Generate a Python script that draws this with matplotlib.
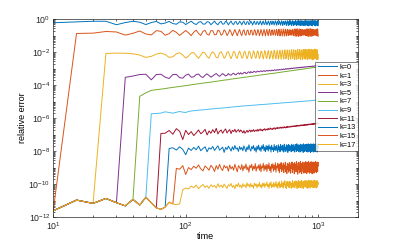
import numpy as np
import matplotlib
matplotlib.use("Agg")
import matplotlib.pyplot as plt
from matplotlib.ticker import LogLocator, NullFormatter

plt.rcParams["font.family"] = ["Liberation Sans", "DejaVu Sans"]

# sampling times
time = np.arange(10, 1001, 5)

# log10 of relative error
# shared floor before each mode switches on (t = 10 .. 90)
baseline = [-11.62, -10.97, -11.17, -10.87, -11.13, -11.32, -10.93, -11.27, -10.80, -11.13,
            -11.44, -11.53, -11.40, -11.10, -11.20, -11.25, -11.20]

k0 = [-0.22, -0.17, -0.13, -0.13, -0.34, -0.21, -0.13, -0.19, -0.33, -0.21,
      -0.14, -0.29, -0.24, -0.14, -0.27, -0.31, -0.17, -0.19, -0.33, -0.22,
      -0.13, -0.26, -0.33, -0.19, -0.15, -0.30, -0.30, -0.16, -0.18, -0.34,
      -0.23, -0.12, -0.27, -0.34, -0.19, -0.14, -0.31, -0.29, -0.14, -0.20,
      -0.35, -0.22, -0.12, -0.28, -0.33, -0.17, -0.15, -0.32, -0.28, -0.13,
      -0.21, -0.35, -0.20, -0.12, -0.29, -0.33, -0.16, -0.16, -0.33, -0.27,
      -0.12, -0.22, -0.36, -0.19, -0.12, -0.30, -0.32, -0.15, -0.17, -0.34,
      -0.26, -0.11, -0.23, -0.36, -0.18, -0.12, -0.31, -0.32, -0.14, -0.18,
      -0.35, -0.25, -0.11, -0.24, -0.37, -0.17, -0.12, -0.32, -0.31, -0.13,
      -0.19, -0.36, -0.24, -0.10, -0.25, -0.37, -0.16, -0.13, -0.33, -0.30,
      -0.12, -0.20, -0.37, -0.23, -0.10, -0.26, -0.38, -0.15, -0.13, -0.34,
      -0.29, -0.11, -0.21, -0.38, -0.22, -0.10, -0.27, -0.38, -0.14, -0.14,
      -0.35, -0.28, -0.10, -0.22, -0.39, -0.21, -0.10, -0.28, -0.38, -0.13,
      -0.15, -0.36, -0.27, -0.09, -0.23, -0.39, -0.20, -0.10, -0.29, -0.37,
      -0.12, -0.16, -0.37, -0.26, -0.09, -0.24, -0.40, -0.19, -0.10, -0.30,
      -0.37, -0.11, -0.17, -0.38, -0.25, -0.09, -0.25, -0.40, -0.18, -0.11,
      -0.31, -0.36, -0.10, -0.18, -0.39, -0.24, -0.08, -0.26, -0.41, -0.17,
      -0.11, -0.32, -0.35, -0.10, -0.19, -0.40, -0.23, -0.08, -0.27, -0.41,
      -0.16, -0.12, -0.33, -0.34, -0.09, -0.20, -0.40, -0.22, -0.08, -0.28,
      -0.41, -0.15, -0.12, -0.34, -0.33, -0.09, -0.21, -0.41, -0.21]

k1 = [-0.87, -0.85, -0.75, -0.78, -0.97, -0.86, -0.72, -0.90, -0.96,
      -0.70, -0.74, -0.98, -0.88, -0.68, -0.80, -0.99, -0.84, -0.69, -0.83,
      -1.00, -0.79, -0.67, -0.87, -0.99, -0.74, -0.68, -0.92, -0.97, -0.70,
      -0.70, -0.95, -0.94, -0.67, -0.73, -0.98, -0.90, -0.65, -0.76, -1.00,
      -0.86, -0.64, -0.79, -1.01, -0.82, -0.63, -0.83, -1.01, -0.78, -0.63,
      -0.87, -1.00, -0.74, -0.64, -0.91, -0.98, -0.70, -0.66, -0.94, -0.95,
      -0.67, -0.68, -0.97, -0.92, -0.64, -0.71, -0.99, -0.88, -0.63, -0.75,
      -1.01, -0.84, -0.62, -0.79, -1.02, -0.80, -0.62, -0.83, -1.02, -0.76,
      -0.62, -0.87, -1.01, -0.72, -0.63, -0.91, -0.99, -0.68, -0.65, -0.95,
      -0.96, -0.65, -0.68, -0.98, -0.92, -0.63, -0.71, -1.00, -0.88, -0.61,
      -0.75, -1.02, -0.84, -0.60, -0.79, -1.03, -0.80, -0.60, -0.83, -1.03,
      -0.76, -0.61, -0.87, -1.02, -0.72, -0.62, -0.91, -1.00, -0.68, -0.64,
      -0.95, -0.97, -0.65, -0.67, -0.98, -0.93, -0.62, -0.70, -1.01, -0.89,
      -0.60, -0.74, -1.03, -0.85, -0.59, -0.78, -1.04, -0.81, -0.59, -0.82,
      -1.04, -0.77, -0.60, -0.86, -1.03, -0.73, -0.61, -0.90, -1.01, -0.69,
      -0.63, -0.94, -0.98, -0.66, -0.66, -0.97, -0.94, -0.63, -0.69, -1.00,
      -0.90, -0.60, -0.73, -1.03, -0.86, -0.59, -0.77, -1.04, -0.82, -0.58,
      -0.81, -1.05, -0.78, -0.58, -0.85, -1.04, -0.74, -0.60, -0.89, -1.02,
      -0.70, -0.62, -0.93, -0.99, -0.67, -0.65, -0.96, -0.95, -0.64, -0.68,
      -0.99, -0.91, -0.61, -0.72, -1.02, -0.87, -0.59, -0.76, -1.04]

k3 = [-2.08, -2.06, -2.07, -2.10, -2.18, -2.32, -2.26,
      -2.12, -2.06, -2.15, -2.32, -2.28, -2.10, -2.04, -2.18, -2.36, -2.24,
      -2.05, -2.03, -2.22, -2.38, -2.18, -2.00, -2.06, -2.28, -2.37, -2.12,
      -1.98, -2.10, -2.33, -2.34, -2.05, -1.97, -2.16, -2.38, -2.28, -2.00,
      -1.98, -2.22, -2.40, -2.20, -1.95, -2.03, -2.30, -2.38, -2.10, -1.94,
      -2.10, -2.36, -2.33, -2.01, -1.95, -2.18, -2.41, -2.25, -1.96, -1.98,
      -2.26, -2.40, -2.15, -1.92, -2.05, -2.35, -2.36, -2.03, -1.92, -2.14,
      -2.40, -2.28, -1.95, -1.96, -2.25, -2.42, -2.17, -1.90, -2.03, -2.34,
      -2.38, -2.06, -1.90, -2.12, -2.41, -2.30, -1.95, -1.93, -2.22, -2.43,
      -2.20, -1.89, -1.99, -2.32, -2.40, -2.08, -1.88, -2.09, -2.42, -2.33,
      -1.96, -1.90, -2.19, -2.44, -2.22, -1.88, -1.96, -2.30, -2.42, -2.10,
      -1.86, -2.05, -2.40, -2.36, -1.98, -1.87, -2.16, -2.45, -2.25, -1.88,
      -1.93, -2.28, -2.43, -2.12, -1.85, -2.02, -2.38, -2.38, -2.00, -1.86,
      -2.13, -2.45, -2.28, -1.89, -1.90, -2.25, -2.44, -2.15, -1.84, -1.99,
      -2.36, -2.40, -2.02, -1.84, -2.09, -2.44, -2.31, -1.90, -1.87, -2.22,
      -2.45, -2.18, -1.84, -1.96, -2.33, -2.41, -2.05, -1.83, -2.06, -2.43,
      -2.33, -1.92, -1.85, -2.19, -2.46, -2.21, -1.84, -1.93, -2.30, -2.42,
      -2.07, -1.82, -2.03, -2.41, -2.35, -1.94, -1.84, -2.16, -2.46, -2.23,
      -1.85, -1.90, -2.28, -2.44, -2.10, -1.82, -2.00, -2.39, -2.37, -1.96,
      -1.83, -2.13, -2.46, -2.26, -1.86, -1.88, -2.25, -2.45, -2.12]

k5 = [-3.53, -3.45, -3.36, -3.34, -3.68,
      -3.36, -3.34, -3.52, -3.60, -3.36, -3.35, -3.55, -3.58, -3.40, -3.33,
      -3.52, -3.50, -3.36, -3.33, -3.48, -3.54, -3.40, -3.32, -3.42, -3.52,
      -3.45, -3.36, -3.30, -3.40, -3.47, -3.38, -3.30, -3.37, -3.45, -3.40,
      -3.30, -3.38, -3.40, -3.32, -3.28, -3.36, -3.38, -3.30, -3.26, -3.34,
      -3.25, -3.33, -3.31, -3.24, -3.22, -3.30, -3.29, -3.21, -3.20, -3.27,
      -3.18, -3.23, -3.24, -3.19, -3.16, -3.21, -3.22, -3.17, -3.15, -3.19,
      -3.19, -3.16, -3.13, -3.17, -3.18, -3.14, -3.12, -3.16, -3.17, -3.13,
      -3.11, -3.14, -3.15, -3.12, -3.10, -3.13, -3.14, -3.10, -3.09, -3.12,
      -3.12, -3.09, -3.07, -3.10, -3.11, -3.08, -3.06, -3.09, -3.10, -3.07,
      -3.05, -3.08, -3.08, -3.05, -3.03, -3.06, -3.07, -3.04, -3.02, -3.05,
      -3.05, -3.02, -3.00, -3.03, -3.04, -3.01, -3.00, -3.02, -3.02, -2.99,
      -2.98, -3.01, -3.01, -2.98, -2.97, -2.99, -3.00, -2.97, -2.96, -2.98,
      -2.98, -2.96, -2.95, -2.97, -2.97, -2.95, -2.94, -2.96, -2.96, -2.94,
      -2.93, -2.95, -2.95, -2.93, -2.92, -2.94, -2.94, -2.92, -2.91, -2.93,
      -2.93, -2.91, -2.90, -2.92, -2.92, -2.90, -2.89, -2.91, -2.91, -2.89,
      -2.89, -2.90, -2.90, -2.88, -2.88, -2.89, -2.89, -2.87, -2.87, -2.88,
      -2.89, -2.87, -2.87, -2.88, -2.88, -2.86, -2.86, -2.87, -2.87, -2.85,
      -2.86, -2.85, -2.86, -2.86, -2.84, -2.84, -2.85, -2.85, -2.83, -2.83,
      -2.84, -2.84, -2.82, -2.82, -2.83, -2.83, -2.81, -2.81, -2.82]

k7 = [-4.68, -4.47, -4.32,
      -4.28, -4.24, -4.21, -4.17, -4.14, -4.11, -4.08, -4.06, -4.03, -4.01,
      -3.98, -3.96, -3.94, -3.92, -3.90, -3.88, -3.86, -3.85, -3.83, -3.82,
      -3.80, -3.78, -3.77, -3.76, -3.74, -3.73, -3.71, -3.70, -3.69, -3.68,
      -3.67, -3.65, -3.64, -3.63, -3.62, -3.61, -3.60, -3.59, -3.58, -3.57,
      -3.56, -3.55, -3.54, -3.53, -3.52, -3.52, -3.51, -3.50, -3.49, -3.48,
      -3.47, -3.47, -3.46, -3.45, -3.44, -3.44, -3.43, -3.42, -3.42, -3.41,
      -3.40, -3.39, -3.39, -3.38, -3.37, -3.37, -3.36, -3.36, -3.35, -3.34,
      -3.34, -3.33, -3.33, -3.32, -3.31, -3.31, -3.30, -3.30, -3.29, -3.29,
      -3.28, -3.28, -3.27, -3.27, -3.26, -3.26, -3.25, -3.25, -3.24, -3.24,
      -3.23, -3.23, -3.22, -3.22, -3.21, -3.21, -3.20, -3.20, -3.19, -3.19,
      -3.18, -3.18, -3.18, -3.17, -3.17, -3.16, -3.16, -3.15, -3.15, -3.15,
      -3.14, -3.14, -3.13, -3.13, -3.13, -3.12, -3.12, -3.12, -3.11, -3.11,
      -3.10, -3.10, -3.10, -3.09, -3.09, -3.09, -3.08, -3.08, -3.08, -3.07,
      -3.07, -3.06, -3.06, -3.06, -3.05, -3.05, -3.05, -3.04, -3.04, -3.04,
      -3.03, -3.03, -3.03, -3.03, -3.02, -3.02, -3.02, -3.01, -3.01, -3.01,
      -3.00, -3.00, -3.00, -2.99, -2.99, -2.99, -2.99, -2.98, -2.98, -2.98,
      -2.97, -2.97, -2.97, -2.97, -2.96, -2.96, -2.96, -2.95, -2.95, -2.95,
      -2.95, -2.94, -2.94, -2.94, -2.94, -2.93, -2.93, -2.93, -2.93, -2.92,
      -2.92, -2.92, -2.91, -2.91, -2.91, -2.91, -2.90, -2.90, -2.90]

k9 = [-5.74,
      -5.72, -5.70, -5.62, -5.66, -5.70, -5.65, -5.60, -5.64, -5.66, -5.60,
      -5.57, -5.55, -5.54, -5.52, -5.51, -5.50, -5.49, -5.47, -5.46, -5.45,
      -5.44, -5.43, -5.42, -5.41, -5.40, -5.39, -5.39, -5.38, -5.37, -5.36,
      -5.35, -5.34, -5.34, -5.33, -5.32, -5.31, -5.31, -5.30, -5.29, -5.29,
      -5.28, -5.27, -5.27, -5.26, -5.26, -5.25, -5.25, -5.25, -5.24, -5.24,
      -5.23, -5.23, -5.22, -5.22, -5.21, -5.21, -5.21, -5.20, -5.20, -5.19,
      -5.19, -5.18, -5.18, -5.18, -5.18, -5.17, -5.17, -5.17, -5.16, -5.16,
      -5.16, -5.15, -5.15, -5.15, -5.14, -5.14, -5.14, -5.13, -5.13, -5.13,
      -5.12, -5.12, -5.12, -5.11, -5.11, -5.11, -5.11, -5.10, -5.10, -5.10,
      -5.10, -5.09, -5.09, -5.09, -5.08, -5.08, -5.08, -5.08, -5.07, -5.07,
      -5.07, -5.07, -5.06, -5.06, -5.06, -5.06, -5.06, -5.05, -5.05, -5.05,
      -5.05, -5.04, -5.04, -5.04, -5.04, -5.04, -5.03, -5.03, -5.03, -5.03,
      -5.02, -5.02, -5.02, -5.02, -5.02, -5.01, -5.01, -5.01, -5.01, -5.01,
      -5.00, -5.00, -5.00, -5.00, -5.00, -4.99, -4.99, -4.99, -4.99, -4.99,
      -4.99, -4.98, -4.98, -4.98, -4.98, -4.98, -4.98, -4.97, -4.97, -4.97,
      -4.97, -4.97, -4.96, -4.96, -4.96, -4.96, -4.96, -4.95, -4.95, -4.95,
      -4.95, -4.95, -4.95, -4.94, -4.94, -4.94, -4.94, -4.94, -4.94, -4.93,
      -4.93, -4.93, -4.93, -4.93, -4.93, -4.92, -4.92, -4.92, -4.92, -4.92,
      -4.92, -4.92, -4.92, -4.91, -4.91, -4.91, -4.91, -4.91, -4.91]

k11 = [-6.93,
       -6.92, -6.75, -6.98, -6.64, -6.80, -7.30, -6.74, -7.00,
       -6.82, -7.06, -6.90, -6.72, -6.95, -6.84, -6.68, -7.02, -6.78, -6.92,
       -6.70, -6.88, -6.62, -6.96, -6.80, -6.72, -6.92, -6.76, -6.66, -6.90,
       -6.78, -6.70, -6.94, -6.74, -6.82, -6.68, -6.86, -6.76, -6.70, -6.84,
       -6.72, -6.80, -6.90, -6.76, -6.92, -6.84, -6.74, -6.86, -6.78, -6.72,
       -6.84, -6.74, -6.80, -6.70, -6.82, -6.76, -6.72, -6.80, -6.68, -6.78,
       -6.72, -6.66, -6.76, -6.70, -6.78, -6.68, -6.72, -6.64, -6.74, -6.70,
       -6.66, -6.72, -6.62, -6.70, -6.66, -6.60, -6.68, -6.64, -6.70, -6.62,
       -6.66, -6.58, -6.64, -6.68, -6.60, -6.62, -6.56, -6.64, -6.60, -6.58,
       -6.62, -6.56, -6.60, -6.54, -6.62, -6.58, -6.55, -6.60, -6.56, -6.52,
       -6.58, -6.55, -6.60, -6.53, -6.56, -6.50, -6.57, -6.54, -6.51, -6.56,
       -6.52, -6.49, -6.54, -6.50, -6.53, -6.48, -6.52, -6.50, -6.47, -6.52,
       -6.49, -6.46, -6.51, -6.48, -6.50, -6.45, -6.49, -6.47, -6.44, -6.49,
       -6.46, -6.43, -6.48, -6.45, -6.47, -6.42, -6.46, -6.44, -6.41, -6.46,
       -6.43, -6.41, -6.45, -6.42, -6.44, -6.40, -6.44, -6.41, -6.39, -6.43,
       -6.41, -6.38, -6.43, -6.40, -6.42, -6.37, -6.41, -6.39, -6.36, -6.41,
       -6.39, -6.36, -6.40, -6.37, -6.39, -6.35, -6.39, -6.36, -6.34, -6.38,
       -6.36, -6.34, -6.38, -6.35, -6.37, -6.33, -6.36, -6.34, -6.32, -6.36,
       -6.34, -6.31, -6.35, -6.33, -6.34, -6.30, -6.33, -6.31, -6.32]

k13 = [-7.84,
       -7.80, -7.94, -7.74, -7.90, -8.22, -7.82,
       -7.96, -7.78, -7.92, -7.70, -7.98, -7.84, -7.74, -8.04, -7.80, -7.88,
       -7.72, -7.96, -7.82, -7.68, -7.94, -7.86, -7.76, -8.08, -7.78, -7.90,
       -7.70, -7.84, -8.00, -7.74, -7.92, -7.66, -7.88, -7.80, -8.02, -7.72,
       -7.90, -7.78, -7.98, -7.68, -7.86, -8.04, -7.74, -7.92, -7.62, -7.88,
       -8.00, -7.72, -7.86, -7.66, -7.96, -7.80, -8.06, -7.70, -7.90, -7.64,
       -7.94, -7.78, -8.02, -7.68, -7.86, -7.60, -7.98, -7.76, -8.04, -7.66,
       -7.92, -7.70, -8.00, -7.62, -7.88, -7.74, -8.06, -7.64, -7.90, -7.80,
       -8.02, -7.60, -7.94, -7.72, -7.98, -7.66, -7.86, -8.08, -7.62, -7.90,
       -7.74, -8.04, -7.60, -7.92, -7.70, -8.00, -7.64, -7.88, -8.06, -7.58,
       -7.94, -7.76, -8.02, -7.62, -7.90, -7.68, -8.08, -7.60, -7.86, -7.98,
       -7.64, -7.92, -7.72, -8.04, -7.58, -7.88, -7.66, -8.00, -7.62, -7.94,
       -7.76, -8.06, -7.60, -7.90, -7.70, -8.02, -7.56, -7.86, -7.96, -7.64,
       -8.04, -7.62, -7.92, -7.70, -8.06, -7.58, -7.88, -7.74, -8.00, -7.60,
       -7.94, -7.66, -8.08, -7.56, -7.90, -7.72, -8.02, -7.60, -7.86, -7.98,
       -7.62, -8.04, -7.58, -7.92, -7.68, -8.06, -7.56, -7.88, -7.76, -8.02,
       -7.60, -7.94, -7.64, -8.08, -7.56, -7.90, -7.70, -8.04, -7.58, -7.86,
       -7.98, -7.62, -8.06, -7.56, -7.92, -7.66, -8.02, -7.60, -7.88, -7.72,
       -8.04, -7.56, -7.94, -7.64, -8.06, -7.58, -7.90, -7.68, -7.80]

k15 = [-9.05,
       -9.10, -8.88, -9.42, -9.00,
       -9.12, -8.92, -9.04, -8.84, -9.08, -9.20, -8.90, -9.02, -9.16, -8.86,
       -9.00, -9.24, -8.88, -9.10, -8.80, -9.06, -9.18, -8.86, -9.02, -8.92,
       -9.22, -8.84, -9.08, -8.94, -9.16, -8.80, -9.04, -9.26, -8.88, -8.98,
       -9.12, -8.82, -9.20, -8.90, -9.06, -8.78, -9.14, -8.96, -9.28, -8.86,
       -9.02, -8.80, -9.18, -8.92, -9.08, -8.76, -9.22, -8.94, -9.04, -8.84,
       -9.16, -8.78, -9.26, -8.90, -9.02, -8.74, -9.20, -8.88, -9.10, -8.80,
       -9.24, -8.84, -9.06, -8.72, -9.18, -8.92, -9.30, -8.80, -9.04, -8.76,
       -9.22, -8.86, -9.12, -8.70, -9.28, -8.90, -9.02, -8.74, -9.20, -8.82,
       -9.32, -8.78, -9.08, -8.70, -9.24, -8.88, -9.14, -8.72, -9.30, -8.84,
       -9.06, -8.68, -9.26, -8.92, -9.36, -8.74, -9.10, -8.80, -9.28, -8.70,
       -9.18, -8.86, -9.34, -8.72, -9.04, -8.66, -9.30, -8.90, -9.12, -8.76,
       -9.38, -8.70, -9.08, -8.82, -9.26, -8.64, -9.20, -8.94, -9.40, -8.72,
       -9.10, -8.68, -9.32, -8.86, -9.16, -8.62, -9.28, -8.78, -9.38, -8.74,
       -9.06, -8.66, -9.24, -8.90, -9.34, -8.70, -9.14, -8.80, -9.30, -8.64,
       -9.20, -8.84, -9.36, -8.68, -9.10, -8.74, -9.28, -8.62, -9.18, -8.88,
       -9.34, -8.70, -9.06, -8.78, -9.30, -8.64, -9.22, -8.86, -9.38, -8.72,
       -9.12, -8.66, -9.28, -8.82, -9.34, -8.68, -9.16, -8.76, -9.26, -8.62,
       -9.20, -8.84, -9.32, -8.70, -9.08, -8.74, -9.24, -8.66, -8.90]

k17 = [-10.34,
       -10.24, -10.30,
       -10.12, -10.22, -10.06, -10.28, -10.14, -10.02, -10.20, -10.10, -10.26, -10.04,
       -10.16, -10.08, -10.24, -9.98, -10.18, -10.06, -10.22, -10.00, -10.14, -10.26,
       -10.04, -10.12, -9.96, -10.20, -10.08, -10.28, -10.02, -10.16, -9.94, -10.18,
       -10.06, -10.24, -9.98, -10.14, -10.04, -10.22, -9.92, -10.12, -10.00, -10.20,
       -9.96, -10.16, -10.06, -10.26, -9.94, -10.10, -9.98, -10.22, -10.02, -10.14,
       -9.90, -10.18, -10.04, -10.24, -9.96, -10.12, -9.92, -10.20, -10.00, -10.08,
       -9.88, -10.16, -10.02, -10.26, -9.94, -10.10, -9.86, -10.22, -10.04, -10.14,
       -9.90, -10.20, -9.98, -10.12, -9.84, -10.18, -10.00, -10.26, -9.92, -10.08,
       -9.86, -10.22, -10.02, -10.14, -9.82, -10.16, -9.96, -10.24, -9.88, -10.06,
       -9.80, -10.20, -10.00, -10.28, -9.86, -10.10, -9.84, -10.18, -9.94, -10.22,
       -9.82, -10.06, -9.90, -10.26, -9.98, -10.14, -9.78, -10.20, -9.96, -10.12,
       -9.84, -10.24, -9.92, -10.08, -9.80, -10.18, -9.98, -10.28, -9.86, -10.04,
       -9.78, -10.22, -9.94, -10.14, -9.82, -10.20, -9.90, -10.06, -9.76, -10.24,
       -9.96, -10.10, -9.84, -10.26, -9.88, -10.02, -9.80, -10.18, -9.92, -10.12,
       -9.78, -10.22, -9.98, -10.08, -9.82, -10.26, -9.90, -10.14, -9.76, -10.20,
       -9.94, -10.04, -9.80, -10.24, -9.86, -10.12, -9.78, -10.18, -9.96, -10.06,
       -9.82, -10.22, -9.90, -10.10, -9.76, -10.20, -9.94, -10.02, -9.80, -10.16,
       -9.88, -10.24, -9.84, -10.08, -9.78, -10.18, -9.92, -10.04, -9.90]

modes = [0, 1, 3, 5, 7, 9, 11, 13, 15, 17]
curves = [k0, k1, k3, k5, k7, k9, k11, k13, k15, k17]

colors = ["#0072BD", "#D95319", "#EDB120", "#7E2F8E", "#77AC30",
          "#4DBEEE", "#A2142F"]

fig = plt.figure(figsize=(3.97, 2.45), dpi=100)
ax = fig.add_axes([0.134, 0.114, 0.768, 0.808])

for i, (k, c) in enumerate(zip(modes, curves)):
    # mode k sits on the floor for its first k samples
    y = 10.0 ** np.array(baseline[:k] + c)
    ax.plot(time, y, color=colors[i % 7], lw=0.7, label="k=%d" % k)

ax.set_xscale("log")
ax.set_yscale("log")
ax.set_xlim(10, 2000)
ax.set_ylim(1e-12, 1)

ax.yaxis.set_major_locator(LogLocator(base=100, numticks=20))
ax.yaxis.set_minor_locator(LogLocator(base=10, subs=np.arange(1, 10), numticks=50))
ax.yaxis.set_minor_formatter(NullFormatter())
ax.xaxis.set_minor_locator(LogLocator(base=10, subs=np.arange(2, 10), numticks=50))
ax.xaxis.set_minor_formatter(NullFormatter())

ax.tick_params(which="both", direction="in", top=True, right=True,
               labelsize=6.3, colors="#262626", width=0.5, pad=2)
ax.tick_params(which="major", length=2.5)
ax.tick_params(which="minor", length=1.5)
for s in ax.spines.values():
    s.set_linewidth(0.5)
    s.set_color("#262626")

ax.set_xlabel("time", fontsize=6.5, labelpad=0.5)
ax.set_ylabel("relative error", fontsize=6.5, labelpad=1)

leg = ax.legend(loc="center right", bbox_to_anchor=(1.0, 0.56), fontsize=5.3,
                frameon=True, fancybox=False, edgecolor="#262626",
                borderaxespad=0, handlelength=2.6, handletextpad=0.4,
                labelspacing=0.2, borderpad=0.3)
leg.get_frame().set_linewidth(0.5)

fig.savefig("out.png", dpi=100)
